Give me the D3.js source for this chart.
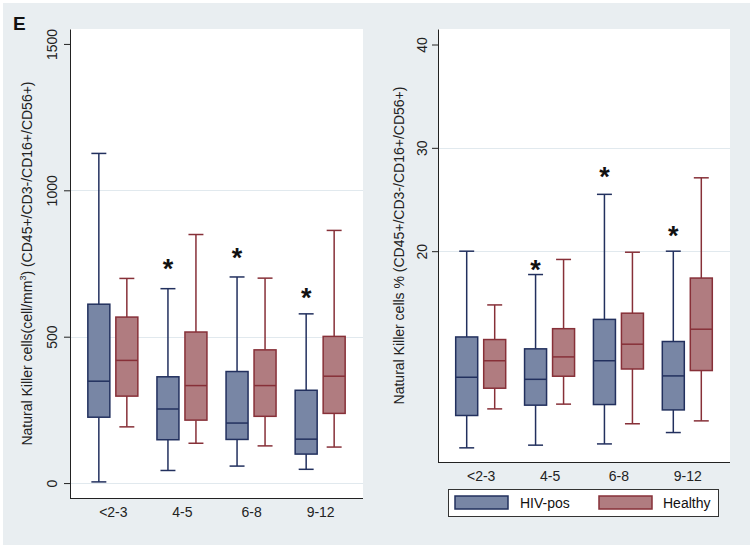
<!DOCTYPE html>
<html>
<head>
<meta charset="utf-8">
<script src="https://cdn.jsdelivr.net/npm/d3@7"></script>
<style>
  html, body { margin: 0; padding: 0; background: #ffffff; }
  svg { display: block; font-family: "Liberation Sans", Arial, sans-serif; }
</style>
</head>
<body>
<svg id="chart" width="754" height="550"></svg>
<script>
// ---------------- DATA ----------------
const categories = ["<2-3", "4-5", "6-8", "9-12"];
const groups = ["HIV-pos", "Healthy"];

// each entry: [min, q1, median, q3, max]
const countHIV = [[4, 225, 348, 611, 1126], [43, 148, 253, 363, 664], [58, 149, 205, 381, 704], [47, 99, 150, 317, 578]];
const countHealthy = [[192, 297, 419, 567, 699], [136, 215, 333, 516, 849], [127, 228, 333, 455, 700], [123, 238, 365, 501, 863]];
const pctHIV = [[0.97, 4.1, 7.8, 11.7, 20.0], [1.23, 5.1, 7.6, 10.55, 17.74], [1.35, 5.16, 9.4, 13.4, 25.5], [2.45, 4.64, 7.93, 11.26, 20.0]];
const pctHealthy = [[4.74, 6.74, 9.4, 11.45, 14.8], [5.2, 7.9, 9.77, 12.5, 19.2], [3.3, 8.6, 11.0, 14.0, 19.9], [3.58, 8.45, 12.45, 17.4, 27.1]];

const countTicks = [0, 500, 1000, 1500];
const countGrid = [0, 500, 1000];
const pctTicks = [20, 30, 40];
const pctGrid = [20, 30];

// significance markers (value position of the asterisk over the HIV-pos box)
const countStars = [null, 751, 788, 652];
const pctStars = [null, 18.8, 27.74, 22.03];

const panelLetter = "E";
const countTitle = ["Natural Killer cells(cell/mm", "3", ") (CD45+/CD3-/CD16+/CD56+)"];
const pctTitle = "Natural Killer cells % (CD45+/CD3-/CD16+/CD56+)";

// ---------------- STYLE ----------------
const colors = {
  "HIV-pos": { fill: "#7886a5", stroke: "#22305e" },
  "Healthy": { fill: "#b07c80", stroke: "#873038" }
};
const bg = "#e9eef1";
const gridColor = "#e1e9ee";

const svg = d3.select("#chart");
svg.append("rect").attr("x", 3).attr("y", 3).attr("width", 747).attr("height", 542).attr("fill", bg);

svg.append("text").attr("x", 13).attr("y", 30)
  .attr("font-size", 19).attr("font-weight", "bold").attr("fill", "#111")
  .text(panelLetter);

function drawPanel(cfg) {
  const { x0, x1, y0, y1, domain, ticks, grid, hiv, healthy, stars, tickX, titleX } = cfg;
  const g = svg.append("g");

  g.append("rect").attr("x", x0).attr("y", y0).attr("width", x1 - x0).attr("height", y1 - y0).attr("fill", "#fff");

  const y = d3.scaleLinear().domain(domain).range([y1, y0]);
  const x = d3.scalePoint().domain(categories).range([x0, x1]).padding(0.62);
  const sub = d3.scaleBand().domain(groups).range([-25, 25]).paddingInner(0.214).paddingOuter(0);

  // grid
  g.selectAll(".grid").data(grid).join("line")
    .attr("x1", x0).attr("x2", x1)
    .attr("y1", d => Math.round(y(d)) + 0.5).attr("y2", d => Math.round(y(d)) + 0.5)
    .attr("stroke", gridColor).attr("stroke-width", 1);

  // y axis
  const ya = g.append("g").attr("transform", `translate(${x0},0)`)
    .call(d3.axisLeft(y).tickValues(ticks).tickSize(6).tickSizeOuter(0).tickFormat(d3.format("d")));
  ya.select(".domain").attr("stroke", "#222");
  ya.selectAll(".tick line").attr("stroke", "#222");
  ya.selectAll(".tick text")
    .attr("x", 0).attr("dy", 0).attr("text-anchor", "middle")
    .attr("transform", `translate(${tickX},0) rotate(-90)`)
    .attr("font-size", 14).attr("fill", "#222")
    .attr("font-family", "Liberation Sans, Arial, sans-serif");

  // x axis
  const xa = g.append("g").attr("transform", `translate(0,${y1})`)
    .call(d3.axisBottom(x).tickSize(0).tickSizeOuter(0).tickPadding(9));
  xa.select(".domain").attr("stroke", "#222").attr("d", `M${x0},0.5H${x1}`);
  xa.selectAll(".tick text").attr("font-size", 14).attr("fill", "#222")
    .attr("font-family", "Liberation Sans, Arial, sans-serif");

  // boxes
  const series = [["HIV-pos", hiv], ["Healthy", healthy]];
  series.forEach(([name, vals]) => {
    const c = colors[name];
    const bw = sub.bandwidth();
    const cap = bw * 0.68;
    const bg2 = g.append("g");
    const items = bg2.selectAll("g").data(vals.map((v, i) => ({ v, cat: categories[i] }))).join("g")
      .attr("transform", d => `translate(${x(d.cat) + sub(name) + bw / 2},0)`);
    // whiskers
    items.append("line").attr("x1", 0).attr("x2", 0)
      .attr("y1", d => y(d.v[3])).attr("y2", d => y(d.v[4]))
      .attr("stroke", c.stroke).attr("stroke-width", 1.5);
    items.append("line").attr("x1", 0).attr("x2", 0)
      .attr("y1", d => y(d.v[1])).attr("y2", d => y(d.v[0]))
      .attr("stroke", c.stroke).attr("stroke-width", 1.5);
    items.append("line").attr("x1", -cap / 2).attr("x2", cap / 2)
      .attr("y1", d => y(d.v[4])).attr("y2", d => y(d.v[4]))
      .attr("stroke", c.stroke).attr("stroke-width", 1.5);
    items.append("line").attr("x1", -cap / 2).attr("x2", cap / 2)
      .attr("y1", d => y(d.v[0])).attr("y2", d => y(d.v[0]))
      .attr("stroke", c.stroke).attr("stroke-width", 1.5);
    // box
    items.append("rect").attr("x", -bw / 2).attr("width", bw)
      .attr("y", d => y(d.v[3])).attr("height", d => y(d.v[1]) - y(d.v[3]))
      .attr("fill", c.fill).attr("stroke", c.stroke).attr("stroke-width", 1.5);
    items.append("line").attr("x1", -bw / 2).attr("x2", bw / 2)
      .attr("y1", d => y(d.v[2])).attr("y2", d => y(d.v[2]))
      .attr("stroke", c.stroke).attr("stroke-width", 1.5);
  });

  // stars
  g.selectAll(".star").data(stars.map((s, i) => ({ s, cat: categories[i] })).filter(d => d.s !== null)).join("text")
    .attr("x", d => x(d.cat) + sub("HIV-pos") + sub.bandwidth() / 2)
    .attr("y", d => y(d.s))
    .attr("dy", "0.56em")
    .attr("text-anchor", "middle")
    .attr("font-size", 27).attr("font-weight", "bold").attr("fill", "#111")
    .text("*");

  return { g, titleX, y0, y1 };
}

const left = drawPanel({
  x0: 70, x1: 363, y0: 29, y1: 498, domain: [-51, 1551],
  ticks: countTicks, grid: countGrid, hiv: countHIV, healthy: countHealthy, stars: countStars,
  tickX: -13
});
const right = drawPanel({
  x0: 438, x1: 730, y0: 29, y1: 462, domain: [-0.4, 41.5],
  ticks: pctTicks, grid: pctGrid, hiv: pctHIV, healthy: pctHealthy, stars: pctStars,
  tickX: -11
});

// y titles
const lt = svg.append("text")
  .attr("transform", `translate(32,${(29 + 498) / 2}) rotate(-90)`)
  .attr("text-anchor", "middle").attr("font-size", 14).attr("fill", "#222");
lt.append("tspan").text(countTitle[0]);
lt.append("tspan").attr("font-size", 9).attr("dy", -6).text(countTitle[1]);
lt.append("tspan").attr("dy", 6).text(countTitle[2]);

svg.append("text")
  .attr("transform", `translate(404,${(29 + 462) / 2}) rotate(-90)`)
  .attr("text-anchor", "middle").attr("font-size", 14).attr("fill", "#222")
  .text(pctTitle);

// legend
const lg = svg.append("g");
lg.append("rect").attr("x", 448.5).attr("y", 489.5).attr("width", 270).attr("height", 27)
  .attr("fill", "#fff").attr("stroke", "#333").attr("stroke-width", 1);
const legendItems = [
  { name: groups[0], sx: 455, tx: 520 },
  { name: groups[1], sx: 599, tx: 663 }
];
legendItems.forEach(it => {
  lg.append("rect").attr("x", it.sx).attr("y", 496).attr("width", 53).attr("height", 13)
    .attr("fill", colors[it.name].fill).attr("stroke", colors[it.name].stroke).attr("stroke-width", 1.5);
  lg.append("text").attr("x", it.tx).attr("y", 508).attr("font-size", 14).attr("fill", "#111").text(it.name);
});
</script>
</body>
</html>
